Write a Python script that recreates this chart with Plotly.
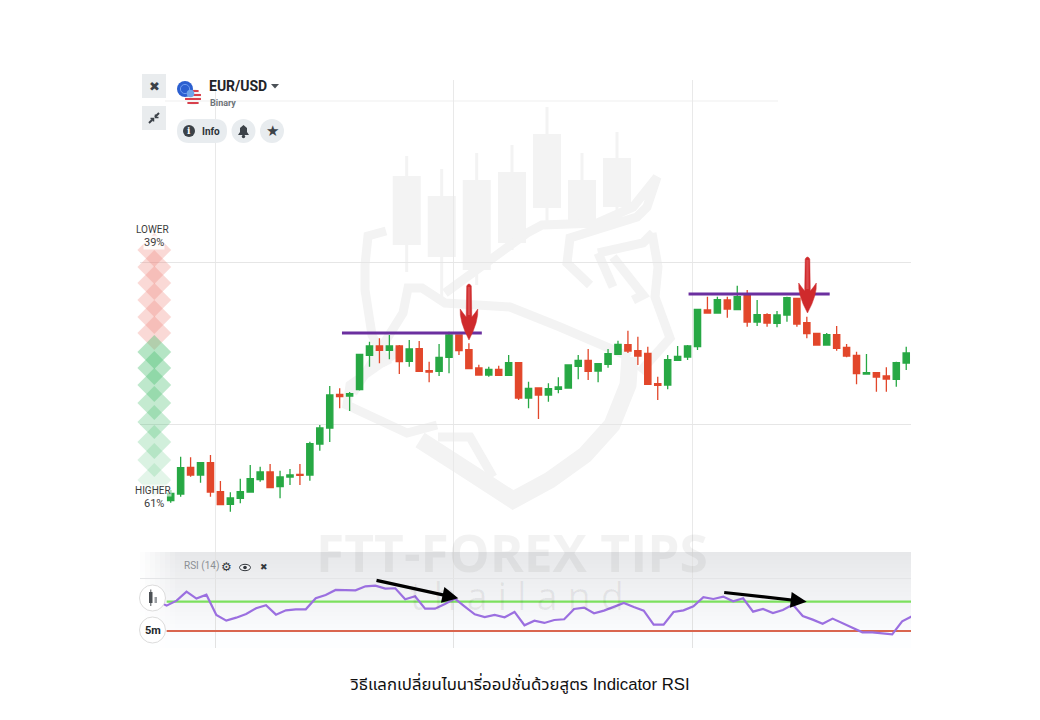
import math
import plotly.graph_objects as go

# ---------- data (price scale is arbitrary: the picture has no price labels) ----------
candle_open = [59.3,66,92.7,85,97.3,68.3,55.7,61.7,68,80.3,88,73.3,83,85.7,85,116,132,165.7,164,170.5,
               204.7,214,209.7,214,198.7,211.3,189.3,188.7,202.7,225,210.3,192,185,190.7,184.7,197.3,162,172,165,170.7,
               172,193.7,199.7,189,195.7,205.7,215.3,209.3,206.7,176.3,175,199.7,203,213.3,250,247,260,250.3,264.3,238,
               245.3,236.7,245,261.7,237.3,226.7,215,225.3,212.7,204.7,186,187.3,184,180.7,197]
candle_close = [66.7,92.3,85,97.3,68,55.3,62,68.3,81.3,88,72.3,83,85,84.7,116.3,132,165,163.3,166.3,205.5,
                214,209.7,214,198.3,211,188.7,188,202.7,225,209.3,191.3,185,190.7,184.7,197.3,162,171.7,165,171.3,173,
                195,199.7,188.7,196.3,206.3,215.7,209,204,175.7,174.7,200.3,203.7,214,250.7,247,260.3,251,263.3,238,245.3,
                237,245,262.3,236,226.3,215,225.3,211.7,204,186.3,187.3,183,181,197.3,207]
candle_high = [70,103.3,102.7,98,105,79,67.7,81.3,95,93.3,96,89.3,91,96,118.3,135,174,171.7,168,205.5,
               218.3,221.7,225,215,220,219,198.3,216,228.3,225,216.7,195.3,193.3,194.3,205,197.3,178.3,172.3,176.7,182.7,
               195.3,205,211,196.7,211,219.3,229.3,223.3,213.3,183.3,205,214,215,250.7,263.3,263.3,263.3,274.3,270,260,
               246.7,249,263.3,262.3,243.3,226.7,227,234,216,208.3,206,187.7,192.7,198.3,213.3]
candle_low = [57.3,63.3,83.3,77.3,63.3,55,48.3,56.7,67.7,78.3,71.7,61.7,75,75,79.3,109.3,118,151.7,149,169.5,
              193.3,196.7,200.7,186,193.3,188.3,177.7,184,186.7,205,191.3,184.7,183.3,184.7,184.3,160,151.7,141,158.3,166.7,
              171.7,180.7,180,177.7,192.3,205,207,195,175.7,160,170.7,199.3,200,210,246.7,246.7,242.3,250,233.3,234,
              233.3,232.7,238.3,233.3,221.7,215,214.7,209.3,202.7,175.7,185.7,168.3,168.3,173.3,190]
candle_index = list(range(len(candle_open)))

rsi_values = [71.4,64.6,71.4,83.7,74.2,79.6,51.9,44.1,48.2,53.2,61,65.1,52.3,58.2,59.6,59.6,74.6,79.2,86,85.5,
              85.5,91,91.9,87.8,88.3,73.3,77.4,60.5,60.5,66.9,74.2,63.3,52.8,49.1,51.9,48.7,56,37.8,44.1,41,
              45,46,60.1,61.9,54.2,57.8,63.3,68.3,62.8,57.8,38.7,38.7,56,58.2,63.7,76,73.7,76.9,70.5,74.6,
              56.4,60.1,54.6,58.7,66,50.5,45.5,40,46.9,40.5,34.6,28.2,28.2,27.3,25.5,43.2,50.1]
rsi_start = -1.41
rsi_index = [rsi_start + i for i in range(len(rsi_values))]
rsi_upper = 70
rsi_lower = 30

resistance_1_x = [17.23, 31.3]
resistance_1_y = [227, 227]
resistance_2_x = [52.1, 66.3]
resistance_2_y = [266, 266]

meter_lower = [310, 293, 277, 260, 243, 227]
meter_higher = [208, 192, 175, 157, 138, 118, 100, 80]
meter_higher_alpha = [.4, .38, .35, .32, .29, .25, .2, .15]

grid_x = [4.51, 28.5, 52.5]
grid_y = [136, 298]
grid_y_rsi = [101]

caption = "วิธีแลกเปลี่ยนไบนารี่ออปชั่นด้วยสูตร Indicator RSI"

# ---------- page helpers ----------
W, H = 1040, 720
def fx(p): return p / W
def fy(p): return 1 - p / H

shapes, annos = [], []

def rect(x0, y0, x1, y1, color, layer="below"):
    shapes.append(dict(type="rect", xref="paper", yref="paper", x0=fx(x0), x1=fx(x1), y0=fy(y0), y1=fy(y1),
                       fillcolor=color, line_width=0, layer=layer))

def circle(cx, cy, r, color, line=None, layer="above", ry=None):
    ry = ry or r
    shapes.append(dict(type="circle", xref="paper", yref="paper", x0=fx(cx-r), x1=fx(cx+r), y0=fy(cy-ry), y1=fy(cy+ry),
                       fillcolor=color, line=dict(color=line or color, width=1 if line else 0), layer=layer))

def path(pts, color=None, width=0, fill=None, closed=False, layer="below"):
    d = "M " + " L ".join(f"{fx(x):.5f},{fy(y):.5f}" for x, y in pts) + (" Z" if closed else "")
    shapes.append(dict(type="path", xref="paper", yref="paper", path=d, layer=layer,
                       fillcolor=fill or "rgba(0,0,0,0)", line=dict(color=color or "rgba(0,0,0,0)", width=width)))

def text(x, y, s, size, color="#333", bold=False, anchor="center", font="Roboto", bg=None):
    annos.append(dict(xref="paper", yref="paper", x=fx(x), y=fy(y), text=f"<b>{s}</b>" if bold else s, showarrow=False,
                      xanchor=anchor, yanchor="middle", bgcolor=bg, borderpad=0,
                      font=dict(size=size, color=color, family=font)))

# ---------- watermark ----------
WM = "#f3f3f3"
for x0, x1, bt, bb, wt, wb in [(392.7,420.7,176,245,156,272),(427.7,455.7,196,257,169,297),(462.7,490.7,180,270,153,285),
                               (498,526,172,243,145,250),(533,561,134,208,107,227),(568,596,180,223,153,225),(603,631,158,207,132,210)]:
    xm = (x0+x1)/2
    rect(xm-1.5, wt, xm+1.5, wb, WM)
    rect(x0, bt, x1, bb, WM)
wm_lines = [
    [(386,231),(368,236),(365,265),(365,290),(372,335),(388,365)],
    [(445,293),(527,233),(542,225),(597,223),(633,207),(657,177),(647,207),(637,217),(570,238),(567,263),(590,285)],
    [(353,393),(403,313),(408,288),(422,288),(445,303),(510,307),(560,327),(630,357)],
    [(652,233),(658,267),(655,297),(670,338),(640,372)],
    [(598,253),(643,243),(653,233)],
    [(598,253),(613,287)],
    [(613,257),(643,295),(633,300)],
    [(400,350),(350,385),(347,405),(407,433),(437,425)],
    [(438,437),(470,437),(493,477)],
]
for ln in wm_lines:
    path(ln, color=WM, width=9)
path([(630,357),(628,385),(612,425),(585,455),(550,480),(513,500),(470,472),(420,440)], color=WM, width=17)

# ---------- RSI panel gradient ----------
steps = 24
for i in range(steps):
    y0 = 552 + i * 4
    g = int(231 + (253 - 231) * min(1, i / (steps - 2)))
    rect(140, y0, 911, y0 + 4, f"rgb({g},{g+1},{min(255,g+3)})")
for i in range(8):
    rect(140 + i*5, 552, 145 + i*5, 648, f"rgba(255,255,255,{0.9 - i*0.12:.2f})")

annos.append(dict(xref="paper", yref="paper", x=fx(512), y=fy(552), text="<b>FTT-FOREX TIPS</b>", showarrow=False,
                  font=dict(size=51.5, color="rgba(0,0,0,0.05)", family="Open Sans"), xanchor="center", yanchor="middle"))
annos.append(dict(xref="paper", yref="paper", x=fx(517), y=fy(595), text="t h a i l a n d", showarrow=False,
                  font=dict(size=38, color="rgba(0,0,0,0.06)", family="Open Sans"), xanchor="center", yanchor="middle"))

# top grid line that stops before the right edge
rect(165, 100.5, 778, 101.5, "#f0f0f0")

# ---------- red arrows ----------
def red_arrow(cx, top, tip, lobe_y, half):
    d = (f"M {fx(cx-2.3):.5f},{fy(top+2):.5f} Q {fx(cx):.5f},{fy(top-2):.5f} {fx(cx+2.3):.5f},{fy(top+2):.5f} "
         f"L {fx(cx+2.8):.5f},{fy(lobe_y+8):.5f} Q {fx(cx+half*0.7):.5f},{fy(lobe_y+4):.5f} {fx(cx+half):.5f},{fy(lobe_y):.5f} "
         f"Q {fx(cx+half+1):.5f},{fy(lobe_y+12):.5f} {fx(cx):.5f},{fy(tip):.5f} "
         f"Q {fx(cx-half-1):.5f},{fy(lobe_y+12):.5f} {fx(cx-half):.5f},{fy(lobe_y):.5f} "
         f"Q {fx(cx-half*0.7):.5f},{fy(lobe_y+4):.5f} {fx(cx-2.8):.5f},{fy(lobe_y+8):.5f} Z")
    shapes.append(dict(type="path", xref="paper", yref="paper", path=d, fillcolor="#cf2a2c",
                       line=dict(color="#cf2a2c", width=0.5), layer="above"))
    rect(cx-1.2, top+3, cx+1.2, lobe_y+6, "#dc4a4c", layer="above")
red_arrow(469, 284, 340, 309, 8.8)
red_arrow(807.5, 257, 313, 283, 8.8)

# ---------- black arrows ----------
for x1, y1, x0, y0 in [(458.3,598.3,375,580),(806.7,601.7,722.7,592.3)]:
    annos.append(dict(xref="paper", yref="paper", x=fx(x1), y=fy(y1), ax=x0-x1, ay=y0-y1, axref="pixel", ayref="pixel",
                      text="", showarrow=True, arrowhead=2, arrowsize=1.0, arrowwidth=3.2, arrowcolor="#000"))

# ---------- top-left controls ----------
for y in (74, 106):
    shapes.append(dict(type="rect", xref="paper", yref="paper", x0=fx(142), x1=fx(166), y0=fy(y), y1=fy(y+24),
                       fillcolor="#e9ecee", line_width=0, layer="above"))
text(154, 86, "✖", 13, "#3c4248", font="DejaVu Sans")
path([(149,123),(153,119)], color="#3c4248", width=2, layer="above")
path([(155,117),(159,113)], color="#3c4248", width=2, layer="above")
path([(150.5,118.5),(153.5,118.5),(153.5,121.5)], color="#3c4248", width=1.5, layer="above")
path([(155.5,114.5),(155.5,117.5),(158.5,117.5)], color="#3c4248", width=1.5, layer="above")

circle(193, 97, 8.2, "#f4f4f4")
for yy in (91, 95, 99, 103):
    half = math.sqrt(max(0, 8.2**2 - (yy-97)**2))
    rect(193-half, yy-1, 193+half, yy+1, "#d8404c", layer="above")
circle(185, 89, 8, "#2b5fd0")
circle(185, 89, 4.6, "#2b5fd0", line="#6f9df0")
circle(190.5, 93.5, 3.8, "#6fa5ea")

text(208, 86, "EUR/USD", 14, "#1f2429", bold=True, anchor="left")
path([(271,84),(279,84),(275,88.5)], fill="#4b5157", closed=True, layer="above")
text(209, 103, "Binary", 9, "#6e7479", bold=True, anchor="left")

shapes.append(dict(type="path", xref="paper", yref="paper", layer="above", fillcolor="#e8ecef", line_width=0,
                   path=f"M {fx(189):.5f},{fy(119):.5f} L {fx(215):.5f},{fy(119):.5f} Q {fx(227):.5f},{fy(119):.5f} {fx(227):.5f},{fy(131):.5f} "
                        f"Q {fx(227):.5f},{fy(143):.5f} {fx(215):.5f},{fy(143):.5f} L {fx(189):.5f},{fy(143):.5f} "
                        f"Q {fx(177):.5f},{fy(143):.5f} {fx(177):.5f},{fy(131):.5f} Q {fx(177):.5f},{fy(119):.5f} {fx(189):.5f},{fy(119):.5f} Z"))
circle(243.5, 131, 12, "#e8ecef")
circle(272, 131, 12, "#e8ecef")
circle(189, 131, 6, "#3c4248")
text(189, 131, "i", 9, "#fff", bold=True, font="DejaVu Serif")
text(201, 131, "Info", 10, "#2d3338", bold=True, anchor="left")
path([(238,135),(240,132),(240,128),(243.5,125),(247,128),(247,132),(249,135)], fill="#3c4248", closed=True, layer="above")
circle(243.5, 136.5, 1.7, "#3c4248")
text(272, 131, "★", 15, "#3c4248", font="DejaVu Sans")

# ---------- meter labels ----------
text(152.5, 229, "LOWER", 10, "#3c3c3c")
text(153.5, 242, "39%", 11, "#3c3c3c", bg="rgba(255,255,255,0.85)")
text(152.5, 490, "HIGHER", 10, "#3c3c3c", bg="rgba(255,255,255,0.6)")
text(153.5, 503, "61%", 11, "#3c3c3c", bg="rgba(255,255,255,0.6)")

# ---------- RSI panel labels and buttons ----------
text(183, 566, "RSI (14)", 10, "#8b8f94", anchor="left")
text(226.5, 567, "⚙", 12, "#33383d", font="DejaVu Sans")
circle(245, 567.5, 5.5, "#f1f2f4", line="#33383d", ry=3.2)
circle(245, 567.5, 1.8, "#33383d")
text(263.5, 567, "✖", 9, "#33383d", font="DejaVu Sans")
circle(152.5, 598, 13, "#ffffff", line="#dcdcdc")
rect(149, 592, 152.5, 603, "#4c5055", layer="above")
rect(150.3, 589.5, 151.3, 606, "#4c5055", layer="above")
rect(154.5, 597, 157, 603, "#9a9ea2", layer="above")
circle(152.5, 630, 13, "#ffffff", line="#dcdcdc")
text(152.5, 630, "5m", 11, "#23272b", bold=True)

# caption
text(519.5, 683, caption, 16.8, "#111111", font="Liberation Sans, Noto Sans Thai, Noto Sans, DejaVu Sans")

# ---------- figure ----------
fig = go.Figure()
fig.add_trace(go.Scatter(x=[-1.65]*len(meter_lower), y=meter_lower, mode="markers", cliponaxis=False, hoverinfo="skip",
                         marker=dict(symbol="diamond", size=26, color="rgba(238,130,120,0.3)", line_width=0)))
fig.add_trace(go.Scatter(x=[-1.65]*len(meter_higher), y=meter_higher, mode="markers", cliponaxis=False, hoverinfo="skip",
                         marker=dict(symbol="diamond", size=26, line_width=0,
                                     color=[f"rgba(70,190,110,{a})" for a in meter_higher_alpha])))
fig.add_trace(go.Candlestick(x=candle_index, open=candle_open, high=candle_high, low=candle_low, close=candle_close,
                             increasing=dict(line=dict(color="#27a844", width=1.3), fillcolor="#27a844"),
                             decreasing=dict(line=dict(color="#e2472b", width=1.3), fillcolor="#e2472b"),
                             whiskerwidth=0, hoverinfo="skip"))
for xs, ys in [(resistance_1_x, resistance_1_y), (resistance_2_x, resistance_2_y)]:
    fig.add_trace(go.Scatter(x=xs, y=ys, mode="lines", line=dict(color="#6b2f9f", width=3), hoverinfo="skip"))

level_x = [rsi_start + 1, candle_index[-1] + 1]
fig.add_trace(go.Scatter(x=level_x, y=[rsi_upper]*2, xaxis="x2", yaxis="y2", mode="lines",
                         line=dict(color="#7ce05e", width=2.2), hoverinfo="skip"))
fig.add_trace(go.Scatter(x=level_x, y=[rsi_lower]*2, xaxis="x2", yaxis="y2", mode="lines",
                         line=dict(color="#d9654f", width=2.2), hoverinfo="skip"))
fig.add_trace(go.Scatter(x=rsi_index, y=rsi_values, xaxis="x2", yaxis="y2", mode="lines",
                         line=dict(color="#9b6fe0", width=2.2), hoverinfo="skip"))

x_dom = [fx(140), fx(911)]
x_rng = [-3.09, 74.48]
ax_common = dict(showticklabels=False, ticks="", zeroline=False, showline=False, fixedrange=True)
fig.update_layout(
    width=W, height=H, margin=dict(l=0, r=0, t=0, b=0, pad=0), showlegend=False, boxgap=0.1,
    paper_bgcolor="#ffffff", plot_bgcolor="rgba(0,0,0,0)",
    xaxis=dict(domain=x_dom, range=x_rng, anchor="y", rangeslider=dict(visible=False),
               showgrid=True, gridcolor="#e9e9e9", gridwidth=1, tickvals=grid_x, **ax_common),
    yaxis=dict(domain=[fy(552), fy(80)], range=[8, 480], anchor="x",
               showgrid=True, gridcolor="#e6e6e6", gridwidth=1, tickvals=grid_y, **ax_common),
    xaxis2=dict(domain=x_dom, range=x_rng, anchor="y2", showgrid=True, gridcolor="#e2e2e2", gridwidth=1,
                tickvals=grid_x, **ax_common),
    yaxis2=dict(domain=[fy(648), fy(552)], range=[6.8, 137.8], anchor="x2",
                showgrid=True, gridcolor="#e4e5e7", gridwidth=1, tickvals=grid_y_rsi, **ax_common),
    shapes=shapes, annotations=annos,
)
fig.write_html("out.html", config=dict(displayModeBar=False),
               post_script="document.body.style.margin='0';document.documentElement.style.overflow='hidden';")
